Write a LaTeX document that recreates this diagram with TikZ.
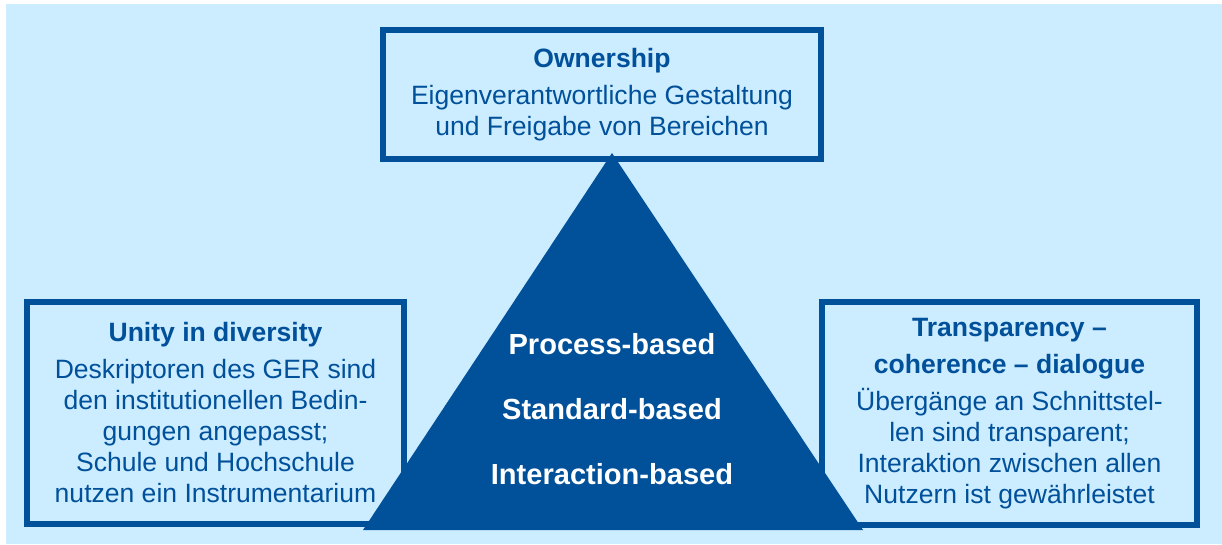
\documentclass[tikz,border=0pt]{standalone}
\usepackage{fontspec}
\setmainfont{Liberation Sans}
\usetikzlibrary{positioning}
\definecolor{darkblue}{HTML}{00509A}
\definecolor{paleblue}{HTML}{CCECFF}

\begin{document}
\begin{tikzpicture}[x=0.75pt,y=-0.75pt,
    box/.style={draw=darkblue,line width=4.5pt,text=darkblue,align=center,
                font=\fontsize{19.9}{23.25}\selectfont,inner sep=0pt},
    tritext/.style={text=white,font=\fontsize{21.8}{26}\selectfont\bfseries,anchor=base}]
  \useasboundingbox (0,0) rectangle (1222,544);
  \fill[paleblue] (6,4) rectangle (1222,544);

  % the three boxes
  \node[box,minimum width=328.5pt,minimum height=96.75pt] (own) at (602,94.5)
    {\textbf{Ownership}\\[4.5pt]Eigenverantwortliche Gestaltung\\und Freigabe von Bereichen};
  \node[box,minimum width=282.75pt,minimum height=166.5pt] (unity) at (215.5,413)
    {\textbf{Unity in diversity}\\[4.5pt]Deskriptoren des GER sind\\den institutionellen Bedin-\\gungen angepasst;\\Schule und Hochschule\\nutzen ein Instrumentarium};
  \node[box,minimum width=281.25pt,minimum height=167.25pt] (transp) at (1009.5,413.5)
    {\textbf{Transparency –}\\[5pt]\textbf{coherence – dialogue}\\[4.5pt]Übergänge an Schnittstel-\\len sind transparent;\\Interaktion zwischen allen\\Nutzern ist gewährleistet};

  % triangle in front
  \coordinate (apex) at (612,153);
  \coordinate (bl) at (363,530);
  \coordinate (br) at (863,530);
  \fill[darkblue] (apex) -- (bl) -- (br) -- cycle;
  \foreach \lbl [count=\i] in {Process-based,Standard-based,Interaction-based}
    \node[tritext] (tri\i) at (612,{289+65*\i}) {\lbl};
\end{tikzpicture}
\end{document}
